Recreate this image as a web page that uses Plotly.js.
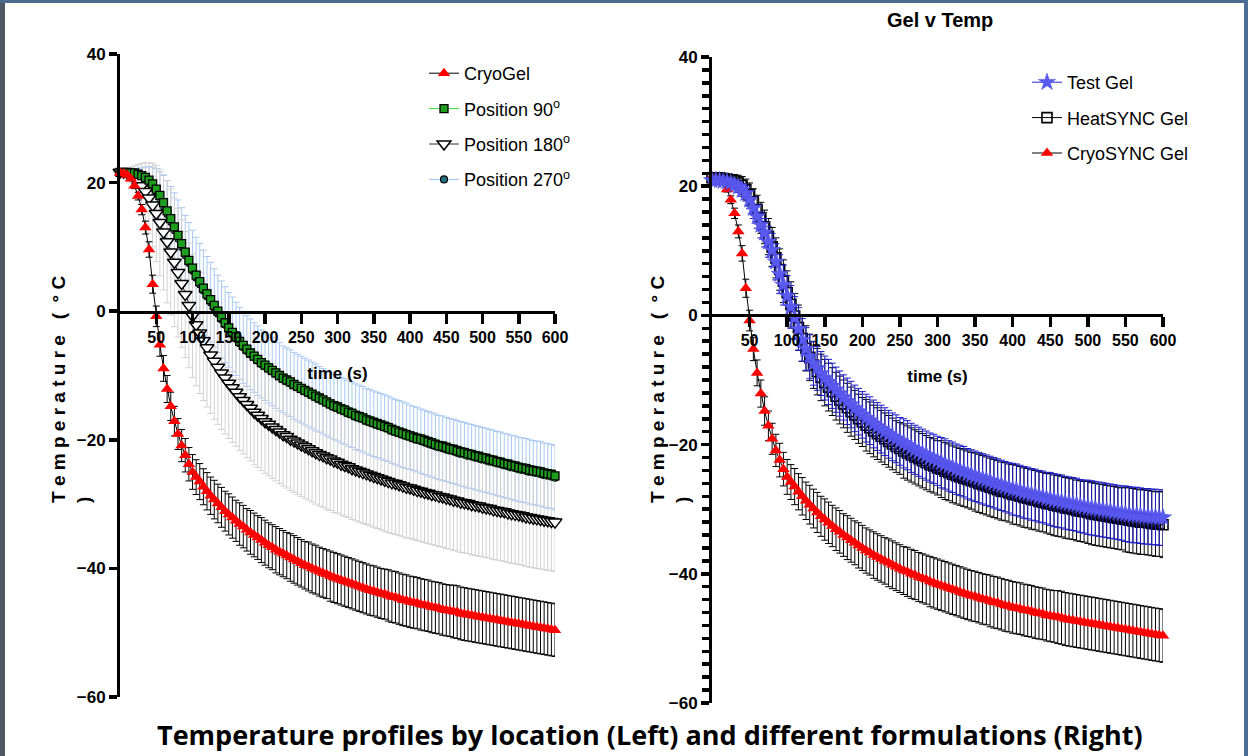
<!DOCTYPE html>
<html><head><meta charset="utf-8">
<script src="https://cdn.plot.ly/plotly-3.0.1.min.js"></script>
<style>html,body{margin:0;padding:0;background:#fff;}#chart{width:1248px;height:756px;}</style>
</head><body><div id="chart"></div>
<script>
// ---------- DATA ----------
const time = [0,5,10,15,20,25,30,35,40,45,50,55,60,65,70,75,80,85,90,95,
100,105,110,115,120,125,130,135,140,145,150,155,160,165,170,175,180,185,190,195,
200,205,210,215,220,225,230,235,240,245,250,255,260,265,270,275,280,285,290,295,
300,305,310,315,320,325,330,335,340,345,350,355,360,365,370,375,380,385,390,395,
400,405,410,415,420,425,430,435,440,445,450,455,460,465,470,475,480,485,490,495,
500,505,510,515,520,525,530,535,540,545,550,555,560,565,570,575,580,585,590,595,600];

const xTickVals = [50,100,150,200,250,300,350,400,450,500,550,600];
const yTickVals = [-60,-40,-20,0,20,40];

const cryoGel = [21.5,21.4,21.2,20.6,19.5,17.9,15.8,13.0,9.6,4.2,
-0.8,-5.2,-8.9,-12.1,-14.8,-17.1,-19.1,-20.9,-22.4,-23.8,
-25.0,-25.8,-26.5,-27.3,-28.0,-28.7,-29.3,-29.9,-30.5,-31.1,
-31.6,-32.1,-32.6,-33.1,-33.5,-34.0,-34.4,-34.8,-35.2,-35.6,
-36.0,-36.4,-36.7,-37.1,-37.4,-37.7,-38.0,-38.3,-38.6,-38.9,
-39.2,-39.5,-39.7,-40.0,-40.2,-40.5,-40.7,-40.9,-41.2,-41.4,
-41.6,-41.8,-42.0,-42.2,-42.4,-42.6,-42.8,-43.0,-43.2,-43.4,
-43.5,-43.7,-43.9,-44.0,-44.2,-44.4,-44.5,-44.7,-44.9,-45.0,
-45.2,-45.3,-45.4,-45.6,-45.7,-45.8,-46.0,-46.1,-46.2,-46.4,
-46.5,-46.6,-46.7,-46.8,-47.0,-47.1,-47.2,-47.3,-47.4,-47.5,
-47.6,-47.7,-47.8,-47.9,-48.0,-48.1,-48.2,-48.3,-48.4,-48.5,
-48.6,-48.7,-48.8,-48.9,-49.0,-49.1,-49.2,-49.3,-49.4,-49.5,-49.6];
const cryoErr = [0.2,0.2,0.2,0.3,0.4,0.6,0.8,1.0,1.2,1.4,
1.6,1.8,2.0,2.1,2.2,2.3,2.4,2.5,2.6,2.6,
2.7,2.7,2.8,2.8,2.9,2.9,3.0,3.0,3.1,3.1,
3.2,3.2,3.2,3.3,3.3,3.3,3.4,3.4,3.4,3.5,
3.5,3.5,3.5,3.6,3.6,3.6,3.6,3.7,3.7,3.7,
3.7,3.7,3.8,3.8,3.8,3.8,3.8,3.8,3.9,3.9,
3.9,3.9,3.9,3.9,3.9,3.9,3.9,3.9,3.9,3.9,
3.9,3.9,3.9,3.9,4.0,4.0,4.0,4.0,4.0,4.0,
4.0,4.0,4.0,4.0,4.0,4.0,4.0,4.0,4.0,4.0,
4.0,4.0,4.1,4.1,4.1,4.1,4.1,4.1,4.1,4.1,
4.1,4.1,4.1,4.1,4.1,4.1,4.1,4.1,4.1,4.1,
4.1,4.1,4.1,4.1,4.1,4.1,4.1,4.1,4.1,4.1,4.1];

const pos90 = [21.6,21.6,21.6,21.5,21.5,21.3,21.1,20.8,20.4,19.8,
19.0,18.0,16.9,15.6,14.4,13.1,11.8,10.5,9.2,7.9,
6.7,5.6,4.6,3.6,2.7,1.8,0.9,0.0,-0.9,-1.8,
-2.6,-3.3,-4.0,-4.7,-5.3,-5.9,-6.5,-7.0,-7.5,-8.0,
-8.4,-8.8,-9.2,-9.6,-10.0,-10.4,-10.7,-11.0,-11.4,-11.7,
-12.0,-12.3,-12.6,-12.9,-13.2,-13.5,-13.8,-14.1,-14.4,-14.7,
-14.9,-15.2,-15.4,-15.7,-15.9,-16.2,-16.4,-16.6,-16.9,-17.1,
-17.3,-17.5,-17.7,-17.9,-18.1,-18.4,-18.6,-18.8,-19.0,-19.2,
-19.4,-19.6,-19.8,-19.9,-20.1,-20.3,-20.5,-20.7,-20.9,-21.0,
-21.2,-21.4,-21.5,-21.7,-21.9,-22.0,-22.2,-22.3,-22.5,-22.6,
-22.8,-22.9,-23.1,-23.2,-23.4,-23.5,-23.7,-23.8,-24.0,-24.1,
-24.3,-24.4,-24.5,-24.7,-24.8,-24.9,-25.0,-25.2,-25.3,-25.4,-25.6];
const pos90Err = [0.2,0.2,0.2,0.2,0.2,0.3,0.3,0.3,0.3,0.3,
0.4,0.4,0.4,0.4,0.4,0.5,0.5,0.5,0.5,0.5,
0.5,0.6,0.6,0.6,0.6,0.6,0.6,0.6,0.6,0.6,
0.6,0.6,0.6,0.6,0.6,0.6,0.6,0.6,0.6,0.6,
0.6,0.6,0.6,0.6,0.6,0.6,0.6,0.6,0.6,0.6,
0.6,0.6,0.6,0.6,0.6,0.6,0.6,0.6,0.6,0.6,
0.7,0.7,0.7,0.7,0.7,0.7,0.7,0.7,0.7,0.7,
0.7,0.7,0.7,0.7,0.7,0.7,0.7,0.7,0.7,0.7,
0.7,0.7,0.7,0.7,0.7,0.7,0.7,0.7,0.7,0.7,
0.7,0.7,0.7,0.7,0.7,0.7,0.7,0.7,0.7,0.7,
0.7,0.7,0.7,0.7,0.7,0.7,0.7,0.7,0.7,0.7,
0.7,0.7,0.7,0.7,0.7,0.7,0.7,0.7,0.7,0.7,0.7];

const pos180 = [21.6,21.6,21.5,21.2,20.8,20.2,19.5,18.6,17.6,16.5,
15.2,13.8,12.3,10.8,9.2,7.6,6.0,4.3,2.6,0.9,
-0.7,-2.1,-3.4,-4.6,-5.7,-6.8,-7.8,-8.7,-9.6,-10.4,
-11.2,-11.9,-12.6,-13.3,-13.9,-14.5,-15.1,-15.7,-16.2,-16.7,
-17.2,-17.6,-18.0,-18.4,-18.8,-19.2,-19.5,-19.9,-20.2,-20.5,
-20.8,-21.1,-21.4,-21.7,-22.0,-22.3,-22.5,-22.8,-23.0,-23.3,
-23.5,-23.8,-24.0,-24.2,-24.5,-24.7,-24.9,-25.1,-25.3,-25.5,
-25.7,-25.9,-26.1,-26.3,-26.5,-26.7,-26.8,-27.0,-27.2,-27.4,
-27.5,-27.7,-27.9,-28.0,-28.2,-28.3,-28.5,-28.6,-28.8,-28.9,
-29.1,-29.2,-29.4,-29.5,-29.7,-29.8,-29.9,-30.1,-30.2,-30.3,
-30.5,-30.6,-30.7,-30.9,-31.0,-31.1,-31.2,-31.4,-31.5,-31.6,
-31.7,-31.8,-32.0,-32.1,-32.2,-32.3,-32.4,-32.5,-32.6,-32.7,-32.8];
const pos180Err = [0.5,0.6,0.8,1.2,1.8,2.6,3.5,4.5,5.5,6.5,
7.5,8.3,9.0,9.5,9.8,10.0,10.0,9.9,9.8,9.7,
9.6,9.5,9.4,9.3,9.2,9.1,9.0,8.9,8.8,8.7,
8.6,8.5,8.4,8.4,8.3,8.3,8.2,8.2,8.1,8.1,
8.0,8.0,8.0,8.0,8.0,8.0,8.0,8.0,8.0,8.0,
8.0,8.0,8.0,8.0,8.0,8.0,8.0,8.0,8.0,8.0,
7.9,7.9,7.9,7.9,7.9,7.9,7.9,7.9,7.9,7.9,
7.9,7.9,7.9,7.9,7.9,7.9,7.9,7.9,7.9,7.9,
7.8,7.8,7.8,7.8,7.8,7.8,7.8,7.8,7.8,7.8,
7.8,7.8,7.8,7.8,7.8,7.8,7.8,7.8,7.8,7.8,
7.7,7.7,7.7,7.7,7.7,7.7,7.7,7.7,7.7,7.7,
7.7,7.7,7.7,7.7,7.7,7.7,7.7,7.7,7.7,7.7,7.7];

const pos270 = [21.5,21.5,21.5,21.4,21.3,21.1,20.8,20.4,19.9,19.2,
18.4,17.4,16.3,15.1,13.9,12.6,11.3,10.0,8.7,7.5,
6.3,5.2,4.2,3.2,2.3,1.4,0.5,-0.4,-1.3,-2.1,
-2.9,-3.6,-4.3,-5.0,-5.6,-6.2,-6.7,-7.2,-7.7,-8.2,
-8.6,-9.0,-9.4,-9.8,-10.2,-10.6,-10.9,-11.2,-11.6,-11.9,
-12.2,-12.5,-12.8,-13.1,-13.4,-13.7,-14.0,-14.3,-14.6,-14.9,
-15.1,-15.4,-15.6,-15.9,-16.1,-16.4,-16.6,-16.8,-17.1,-17.3,
-17.5,-17.7,-17.9,-18.1,-18.3,-18.6,-18.8,-19.0,-19.2,-19.4,
-19.6,-19.8,-20.0,-20.2,-20.4,-20.6,-20.8,-21.0,-21.2,-21.3,
-21.5,-21.7,-21.8,-22.0,-22.2,-22.3,-22.5,-22.6,-22.8,-22.9,
-23.1,-23.2,-23.4,-23.5,-23.7,-23.8,-24.0,-24.1,-24.3,-24.4,
-24.6,-24.7,-24.8,-25.0,-25.1,-25.2,-25.3,-25.5,-25.6,-25.7,-25.9];
const pos270Err = [0.4,0.4,0.5,0.6,0.8,1.1,1.5,2.0,2.6,3.2,
3.8,4.3,4.8,5.2,5.5,5.8,6.0,6.1,6.2,6.3,
6.3,6.3,6.3,6.3,6.2,6.2,6.1,6.0,6.0,5.9,
5.8,5.8,5.7,5.6,5.6,5.5,5.5,5.4,5.4,5.3,
5.3,5.3,5.3,5.3,5.3,5.2,5.2,5.2,5.2,5.2,
5.2,5.2,5.2,5.2,5.2,5.1,5.1,5.1,5.1,5.1,
5.1,5.1,5.1,5.1,5.1,5.1,5.1,5.1,5.1,5.1,
5.1,5.1,5.1,5.1,5.1,5.1,5.1,5.1,5.1,5.1,
5.0,5.0,5.0,5.0,5.0,5.0,5.0,5.0,5.0,5.0,
5.0,5.0,5.0,5.0,5.0,5.0,5.0,5.0,5.0,5.0,
5.0,5.0,5.0,5.0,5.0,5.0,5.0,5.0,5.0,5.0,
5.0,5.0,5.0,5.0,5.0,5.0,5.0,5.0,5.0,5.0,5.0];

const testGel = [20.9,20.9,20.9,20.8,20.7,20.5,20.2,19.9,19.4,18.9,
17.9,16.6,15.3,14.0,12.8,11.4,10.1,8.3,6.4,4.7,
3.0,1.3,-0.4,-2.1,-3.8,-5.2,-6.4,-7.4,-8.2,-9.0,
-9.7,-10.3,-10.9,-11.5,-12.1,-12.7,-13.3,-13.8,-14.4,-14.9,
-15.4,-15.9,-16.3,-16.8,-17.2,-17.6,-18.0,-18.4,-18.8,-19.1,
-19.5,-19.8,-20.1,-20.5,-20.8,-21.1,-21.4,-21.7,-22.0,-22.2,
-22.5,-22.8,-23.0,-23.3,-23.5,-23.8,-24.0,-24.2,-24.5,-24.7,
-24.9,-25.1,-25.3,-25.5,-25.7,-25.9,-26.1,-26.3,-26.5,-26.7,
-26.9,-27.0,-27.2,-27.4,-27.5,-27.7,-27.8,-28.0,-28.1,-28.3,
-28.4,-28.6,-28.7,-28.8,-29.0,-29.1,-29.2,-29.3,-29.5,-29.6,
-29.7,-29.8,-29.9,-30.0,-30.1,-30.2,-30.3,-30.4,-30.5,-30.6,
-30.7,-30.8,-30.9,-30.9,-31.0,-31.1,-31.1,-31.2,-31.2,-31.3,-31.3];
const testErr = [0.4,0.4,0.5,0.5,0.6,0.7,0.8,0.9,1.0,1.2,
1.4,1.6,1.8,2.0,2.2,2.4,2.6,2.8,3.0,3.1,
3.2,3.3,3.3,3.3,3.3,3.3,3.4,3.4,3.4,3.4,
3.4,3.5,3.5,3.5,3.5,3.5,3.6,3.6,3.6,3.6,
3.6,3.7,3.7,3.7,3.7,3.7,3.7,3.7,3.7,3.7,
3.7,3.8,3.8,3.8,3.8,3.8,3.8,3.8,3.8,3.8,
3.8,3.9,3.9,3.9,3.9,3.9,3.9,3.9,3.9,3.9,
3.9,3.9,3.9,3.9,3.9,3.9,3.9,3.9,3.9,3.9,
4.0,4.0,4.0,4.0,4.0,4.0,4.0,4.0,4.0,4.0,
4.1,4.1,4.1,4.1,4.1,4.1,4.1,4.1,4.1,4.1,
4.2,4.2,4.2,4.2,4.2,4.2,4.2,4.2,4.2,4.2,
4.3,4.3,4.3,4.3,4.3,4.3,4.3,4.3,4.3,4.3,4.3];

const heatSync = [21.3,21.3,21.3,21.2,21.1,21.0,20.8,20.5,20.1,19.5,
18.7,17.6,16.4,15.1,13.7,12.2,10.6,8.9,7.1,5.3,
3.5,1.7,-0.1,-1.9,-3.6,-5.1,-6.5,-7.7,-8.7,-9.6,
-10.4,-11.1,-11.8,-12.5,-13.1,-13.7,-14.3,-14.9,-15.4,-16.0,
-16.5,-17.0,-17.4,-17.9,-18.3,-18.7,-19.1,-19.5,-19.9,-20.3,
-20.6,-21.0,-21.3,-21.6,-21.9,-22.2,-22.5,-22.8,-23.1,-23.3,
-23.6,-23.8,-24.1,-24.3,-24.6,-24.8,-25.0,-25.2,-25.4,-25.6,
-25.8,-26.0,-26.2,-26.4,-26.6,-26.8,-27.0,-27.2,-27.3,-27.5,
-27.7,-27.8,-28.0,-28.2,-28.3,-28.5,-28.6,-28.8,-28.9,-29.1,
-29.2,-29.4,-29.5,-29.6,-29.8,-29.9,-30.0,-30.2,-30.3,-30.4,
-30.5,-30.7,-30.8,-30.9,-31.0,-31.1,-31.2,-31.3,-31.4,-31.5,
-31.6,-31.7,-31.8,-31.9,-32.0,-32.0,-32.1,-32.2,-32.3,-32.3,-32.4];
const heatErr = [0.4,0.4,0.5,0.5,0.6,0.8,1.0,1.2,1.4,1.6,
1.8,2.0,2.2,2.4,2.6,2.8,3.0,3.1,3.2,3.3,
3.4,3.5,3.5,3.5,3.5,3.5,3.6,3.6,3.6,3.6,
3.6,3.7,3.7,3.7,3.7,3.7,3.8,3.8,3.8,3.8,
3.8,4.0,4.0,4.0,4.0,4.0,4.0,4.0,4.0,4.0,
4.0,4.2,4.2,4.2,4.2,4.2,4.2,4.2,4.2,4.2,
4.2,4.4,4.4,4.4,4.4,4.4,4.4,4.4,4.4,4.4,
4.5,4.5,4.5,4.5,4.5,4.5,4.5,4.5,4.5,4.5,
4.6,4.6,4.6,4.6,4.6,4.6,4.6,4.6,4.6,4.6,
4.7,4.7,4.7,4.7,4.7,4.7,4.7,4.7,4.7,4.7,
4.8,4.8,4.8,4.8,4.8,4.8,4.8,4.8,4.8,4.8,
5.0,5.0,5.0,5.0,5.0,5.0,5.0,5.0,5.0,5.0,5.1];

const leftNames = ['CryoGel','Position 90<sup>o</sup>','Position 180<sup>o</sup>','Position 270<sup>o</sup>'];
const rightNames = ['Test Gel','HeatSYNC Gel','CryoSYNC Gel'];

// ---------- LAYOUT HELPERS ----------
const W = 1248, H = 756;
const px = v => v / W;
const py = v => 1 - v / H;
const FONT = 'Liberation Sans, Arial, sans-serif';

function errBars(arr, color) {
  return {type: 'data', array: arr, visible: true, color: color, thickness: 1, width: 3.5};
}

const traces = [
  // left panel (draw order: 270, 180, 90, cryo)
  {x: time, y: pos270, name: leftNames[3], legendrank: 4, xaxis: 'x', yaxis: 'y', legendgroup: 'l4',
   mode: 'lines+markers', line: {color: '#9cc4f2', width: 1},
   marker: {symbol: 'circle', size: 7, color: '#23707f', line: {color: '#000', width: 1.2}},
   error_y: errBars(pos270Err, '#a9c9f2'), cliponaxis: false},
  {x: time, y: pos180, name: leftNames[2], legendrank: 3, xaxis: 'x', yaxis: 'y', legendgroup: 'l3',
   mode: 'lines+markers', line: {color: '#333333', width: 1},
   marker: {symbol: 'triangle-down', size: 12, color: '#ffffff', line: {color: '#000', width: 1.5}},
   error_y: errBars(pos180Err, '#d2d2d2'), cliponaxis: false},
  {x: time, y: pos90, name: leftNames[1], legendrank: 2, xaxis: 'x', yaxis: 'y', legendgroup: 'l2',
   mode: 'lines+markers', line: {color: '#36e036', width: 1},
   marker: {symbol: 'square', size: 8, color: '#1e9e1e', line: {color: '#000', width: 1.3}},
   error_y: errBars(pos90Err, '#1e9e1e'), cliponaxis: false},
  {x: time, y: cryoGel, name: leftNames[0], legendrank: 1, xaxis: 'x', yaxis: 'y', legendgroup: 'l1',
   mode: 'lines+markers', line: {color: '#000000', width: 1},
   marker: {symbol: 'triangle-up', size: 11, color: '#ff0000', line: {width: 0}},
   error_y: errBars(cryoErr, '#000000'), cliponaxis: false},
  // right panel (draw order: cryo, heat, test)
  {x: time, y: cryoGel, name: rightNames[2], legend: 'legend2', legendrank: 3, xaxis: 'x2', yaxis: 'y2', legendgroup: 'r3',
   mode: 'lines+markers', line: {color: '#000000', width: 1},
   marker: {symbol: 'triangle-up', size: 11, color: '#ff0000', line: {width: 0}},
   error_y: errBars(cryoErr, '#000000'), cliponaxis: false},
  {x: time, y: heatSync, name: rightNames[1], legend: 'legend2', legendrank: 2, xaxis: 'x2', yaxis: 'y2', legendgroup: 'r2',
   mode: 'lines+markers', line: {color: '#000000', width: 1},
   marker: {symbol: 'square-open', size: 10, color: '#000000', line: {width: 1.6}},
   error_y: errBars(heatErr, '#000000'), cliponaxis: false},
  {x: time, y: testGel, name: rightNames[0], legend: 'legend2', legendrank: 1, xaxis: 'x2', yaxis: 'y2', legendgroup: 'r1',
   mode: 'lines+markers', line: {color: '#2424d0', width: 1},
   marker: {symbol: 'star', size: 13, color: '#5a5af0', line: {color: '#4848e0', width: 0.5}},
   error_y: errBars(testErr, '#1a1ac8'), cliponaxis: false}
];

function xAxis(domain, pos) {
  return {domain: domain, range: [0, 600], anchor: 'free', position: pos,
    showgrid: false, zeroline: false, showline: true, linecolor: '#000', linewidth: 2.5,
    ticks: 'outside', ticklen: 10, tickwidth: 3.5, tickcolor: '#000',
    tickmode: 'array', tickvals: xTickVals,
    tickfont: {family: FONT, size: 16, color: '#000', weight: 'bold'},
    title: {text: 'time (s)', font: {family: FONT, size: 17, color: '#000', weight: 'bold'}, standoff: 22},
    automargin: false, fixedrange: true};
}
function yAxis(domain, anchor, minor) {
  const a = {domain: domain, range: [-60, 40], anchor: anchor,
    showgrid: false, zeroline: false, showline: true, linecolor: '#000', linewidth: 3,
    ticks: 'outside', ticklen: 8, tickwidth: 3.5, tickcolor: '#000',
    tickmode: 'array', tickvals: yTickVals,
    tickfont: {family: FONT, size: 17, color: '#000', weight: 'bold'},
    automargin: false, fixedrange: true};
  if (minor) a.minor = {dtick: 2, ticks: 'outside', ticklen: 7, tickwidth: 3.5, tickcolor: '#000', showgrid: false};
  return a;
}

const yTitleText = 'T e m p e r a t u r e \u00a0\u00a0(\u00a0 \u00b0 C<br>)';

const layout = {
  width: W, height: H,
  margin: {l: 0, r: 0, t: 0, b: 0, pad: 0},
  paper_bgcolor: '#ffffff', plot_bgcolor: 'rgba(0,0,0,0)',
  showlegend: true,
  xaxis: xAxis([px(120), px(555)], py(312)),
  yaxis: yAxis([py(697), py(54)], 'x', false),
  xaxis2: xAxis([px(712), px(1163)], py(315)),
  yaxis2: yAxis([py(703), py(57)], 'x2', true),
  legend: {x: px(424), y: py(55), xanchor: 'left', yanchor: 'top', bgcolor: 'rgba(0,0,0,0)',
    font: {family: FONT, size: 18, color: '#000'}, tracegroupgap: 9, itemwidth: 30},
  legend2: {x: px(1027), y: py(64), xanchor: 'left', yanchor: 'top', bgcolor: 'rgba(0,0,0,0)',
    font: {family: FONT, size: 18, color: '#000'}, tracegroupgap: 9, itemwidth: 30},
  annotations: [
    {text: 'Gel v Temp', xref: 'paper', yref: 'paper', x: px(940), y: py(20), xanchor: 'center', yanchor: 'middle',
     showarrow: false, font: {family: FONT, size: 20, color: '#000', weight: 'bold'}},
    {text: 'Temperature profiles by location (Left) and different formulations (Right)', xref: 'paper', yref: 'paper',
     x: px(650), y: py(734), xanchor: 'center', yanchor: 'middle', showarrow: false,
     font: {family: 'Open Sans, sans-serif', size: 27, color: '#000', weight: 'bold'}},
    {text: yTitleText, xref: 'paper', yref: 'paper', x: px(71), y: py(390), xanchor: 'center', yanchor: 'middle',
     textangle: -90, align: 'left', showarrow: false, font: {family: FONT, size: 19, color: '#000', weight: 'bold'}},
    {text: yTitleText, xref: 'paper', yref: 'paper', x: px(670), y: py(390), xanchor: 'center', yanchor: 'middle',
     textangle: -90, align: 'left', showarrow: false, font: {family: FONT, size: 19, color: '#000', weight: 'bold'}}
  ],
  shapes: [
    {type: 'rect', xref: 'paper', yref: 'paper', x0: 0, x1: px(5), y0: 0, y1: 1, fillcolor: '#505862', line: {width: 0}, layer: 'above'},
    {type: 'rect', xref: 'paper', yref: 'paper', x0: 0, x1: 1, y0: py(3), y1: 1, fillcolor: '#4b6a8e', line: {width: 0}, layer: 'above'},
    {type: 'rect', xref: 'paper', yref: 'paper', x0: px(1244), x1: 1, y0: 0, y1: 1, fillcolor: '#4d6d96', line: {width: 0}, layer: 'above'}
  ]
};

Plotly.newPlot('chart', traces, layout, {displayModeBar: false, staticPlot: true});
</script>
</body></html>
